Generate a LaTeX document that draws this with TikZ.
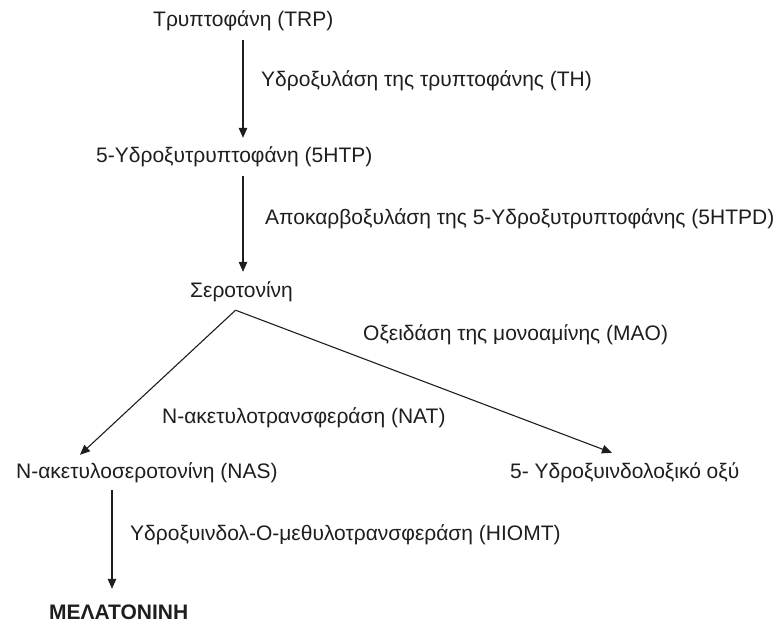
\documentclass[tikz,border=0pt]{standalone}
\usepackage{fontspec}
\setmainfont{Liberation Sans}
\usetikzlibrary{arrows.meta,calc}
\definecolor{ink}{HTML}{1E1E1E}
\begin{document}
\begin{tikzpicture}[x=1pt,y=1pt,
  lbl/.style={anchor=base west,inner sep=0pt,text height=15pt,text depth=5pt,
    text=ink,font=\fontsize{21}{25}\selectfont},
  arr/.style={draw=ink,line width=1.1pt,-{Triangle[length=10pt,width=8.5pt]}}]
\useasboundingbox (0,0) rectangle (783,625);

% compounds
\node[lbl] (trp)  at (153,598) {Τρυπτοφάνη (TRP)};
\node[lbl] (htp)  at (96,462)  {5-Υδροξυτρυπτοφάνη (5HTP)};
\node[lbl] (ser)  at (190,328) {Σεροτονίνη};
\node[lbl] (nas)  at (16,147)  {N-ακετυλοσεροτονίνη (NAS)};
\node[lbl] (hiaa) at (510,147) {5- Υδροξυινδολοξικό οξύ};
\node[lbl,font=\fontsize{21}{25}\selectfont\bfseries] (mel) at (49,6) {ΜΕΛΑΤΟΝΙΝΗ};

% enzymes
\node[lbl] (th)    at (261,538) {Υδροξυλάση της τρυπτοφάνης (TH)};
\node[lbl] (htpd)  at (265,401) {Αποκαρβοξυλάση της 5-Υδροξυτρυπτοφάνης (5HTPD)};
\node[lbl] (mao)   at (363,285) {Οξειδάση της μονοαμίνης (MAO)};
\node[lbl] (nat)   at (162,202) {N-ακετυλοτρανσφεράση (NAT)};
\node[lbl] (hiomt) at (130,85)  {Υδροξυινδολ-Ο-μεθυλοτρανσφεράση (HIOMT)};

% vertical steps
\coordinate (colA) at (243,0);
\coordinate (colB) at (112,0);
\draw[arr,shorten <=8pt,shorten >=10pt] (trp.south -| colA) -- (htp.north -| colA);
\draw[arr,shorten <=8pt,shorten >=10pt] (htp.south -| colA) -- (ser.north -| colA);
\draw[arr,shorten <=7pt,shorten >=15pt] (nas.south -| colB) -- (mel.north -| colB);

% branching from serotonin
\path (ser.south) ++(-6,-8) coordinate (fork);
\draw[arr] (fork) -- ([xshift=64pt,yshift=8pt]nas.north west);
\draw[arr] (fork) -- ([xshift=102pt,yshift=10pt]hiaa.north west);
\end{tikzpicture}
\end{document}
